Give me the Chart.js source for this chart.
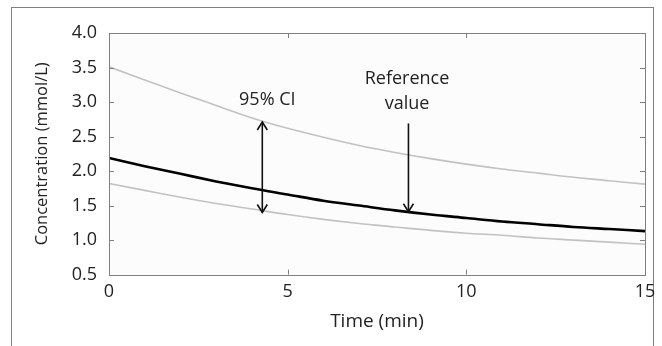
<!DOCTYPE html>
<html>
<head>
<meta charset="utf-8">
<script src="https://cdn.jsdelivr.net/npm/chart.js@4"></script>
<style>
  html, body { margin: 0; padding: 0; background: #fff; }
  #wrap { width: 662px; height: 346px; }
</style>
</head>
<body>
<div id="wrap"><canvas id="chart1" width="662" height="346"></canvas></div>
<script>
const times = [0, 1, 2, 3, 4, 5, 6, 7, 8, 9, 10, 11, 12, 13, 14, 15]
const reference = [2.19, 2.07, 1.96, 1.85, 1.75, 1.66, 1.57, 1.50, 1.43, 1.37, 1.32, 1.27, 1.23, 1.19, 1.16, 1.13]
const upperCI = [3.51, 3.32, 3.13, 2.95, 2.77, 2.62, 2.49, 2.37, 2.27, 2.18, 2.10, 2.03, 1.97, 1.91, 1.86, 1.81]
const lowerCI = [1.82, 1.72, 1.62, 1.53, 1.45, 1.37, 1.30, 1.24, 1.19, 1.14, 1.10, 1.07, 1.03, 1.00, 0.97, 0.94]

// annotation arrows: [time, from value, to value, double headed]
const ciArrow = [4.29, 1.40, 2.71, true]
const refArrow = [8.38, 2.69, 1.41, false]
const ciLabel = ['95% CI']
const refLabel = ['Reference', 'value']

const FONT = "'Open Sans', 'DejaVu Sans', sans-serif"

const toPoints = vals => vals.map((v, i) => ({ x: times[i], y: v }))

function arrowHead(ctx, x, y, dir) {
  // dir = -1 points up, 1 points down
  ctx.beginPath()
  ctx.moveTo(x - 5, y - dir * 8)
  ctx.lineTo(x, y)
  ctx.lineTo(x + 5, y - dir * 8)
  ctx.stroke()
}

const decor = {
  id: 'decor',
  beforeDraw(chart) {
    const { ctx, chartArea: a } = chart
    ctx.save()
    ctx.strokeStyle = '#808080'
    ctx.lineWidth = 1
    ctx.strokeRect(11.5, 7.5, 642, 400)
    ctx.fillStyle = '#fcfcfc'
    ctx.fillRect(a.left, a.top, a.right - a.left, a.bottom - a.top)
    ctx.restore()
  },
  afterDatasetsDraw(chart) {
    const { ctx, chartArea: a, scales: { x, y } } = chart
    ctx.save()
    // frame + inner ticks
    ctx.strokeStyle = '#808080'
    ctx.lineWidth = 1
    ctx.strokeRect(Math.round(a.left) + 0.5, Math.round(a.top) + 0.5, Math.round(a.right - a.left), Math.round(a.bottom - a.top))
    ctx.beginPath()
    y.ticks.forEach(t => {
      const py = Math.round(y.getPixelForValue(t.value)) + 0.5
      ctx.moveTo(a.left, py); ctx.lineTo(a.left + 5, py)
      ctx.moveTo(a.right, py); ctx.lineTo(a.right - 5, py)
    })
    x.ticks.forEach(t => {
      const px = Math.round(x.getPixelForValue(t.value)) + 0.5
      ctx.moveTo(px, a.top); ctx.lineTo(px, a.top + 5)
      ctx.moveTo(px, a.bottom); ctx.lineTo(px, a.bottom - 5)
    })
    ctx.stroke()

    // arrows
    ctx.strokeStyle = '#111'
    ctx.lineWidth = 1.6
    ;[ciArrow, refArrow].forEach(([t, v0, v1, both]) => {
      const px = x.getPixelForValue(t)
      const y0 = y.getPixelForValue(v0)
      const y1 = y.getPixelForValue(v1)
      ctx.beginPath()
      ctx.moveTo(px, y0); ctx.lineTo(px, y1)
      ctx.stroke()
      arrowHead(ctx, px, y1, y1 > y0 ? 1 : -1)
      if (both) arrowHead(ctx, px, y0, y0 > y1 ? 1 : -1)
    })

    // labels
    ctx.fillStyle = '#222'
    ctx.font = '18px ' + FONT
    ctx.textAlign = 'center'
    ctx.textBaseline = 'middle'
    ctx.fillText(ciLabel[0], x.getPixelForValue(4.43), y.getPixelForValue(3.03))
    ctx.fillText(refLabel[0], x.getPixelForValue(8.34), y.getPixelForValue(3.33))
    ctx.fillText(refLabel[1], x.getPixelForValue(8.34), y.getPixelForValue(2.98))
    ctx.restore()
  }
}

new Chart(document.getElementById('chart1'), {
  type: 'line',
  data: {
    datasets: [{
      label: 'Upper 95% CI',
      data: toPoints(upperCI),
      borderColor: '#c2c2c2',
      borderWidth: 1.6
    }, {
      label: 'Lower 95% CI',
      data: toPoints(lowerCI),
      borderColor: '#c2c2c2',
      borderWidth: 1.6
    }, {
      label: 'Reference value',
      data: toPoints(reference),
      borderColor: '#000',
      borderWidth: 2.6
    }]
  },
  options: {
    responsive: false,
    animation: false,
    events: [],
    layout: { padding: { left: 0, top: 33, right: 17, bottom: 0 } },
    elements: {
      point: { radius: 0 },
      line: { cubicInterpolationMode: 'monotone', fill: false }
    },
    plugins: {
      legend: { display: false },
      tooltip: { enabled: false }
    },
    scales: {
      x: {
        type: 'linear',
        min: 0,
        max: 15,
        grid: { display: false, drawTicks: false },
        border: { display: false },
        ticks: {
          stepSize: 5,
          padding: 6,
          color: '#222',
          font: { family: FONT, size: 18 }
        },
        title: {
          display: true,
          text: 'Time (min)',
          color: '#222',
          font: { family: FONT, size: 19 },
          padding: { top: 0, bottom: 13 }
        },
        afterFit(scale) { scale.height = 71.4 }
      },
      y: {
        min: 0.5,
        max: 4.0,
        grid: { display: false, drawTicks: false },
        border: { display: false },
        ticks: {
          stepSize: 0.5,
          padding: 12,
          color: '#222',
          font: { family: FONT, size: 18 },
          callback: v => v.toFixed(1)
        },
        title: {
          display: true,
          text: 'Concentration (mmol/L)',
          color: '#222',
          font: { family: FONT, size: 16.5 },
          padding: { top: 32, bottom: 0 }
        },
        afterFit(scale) { scale.width = 109 }
      }
    }
  },
  plugins: [decor]
})
</script>
</body>
</html>
